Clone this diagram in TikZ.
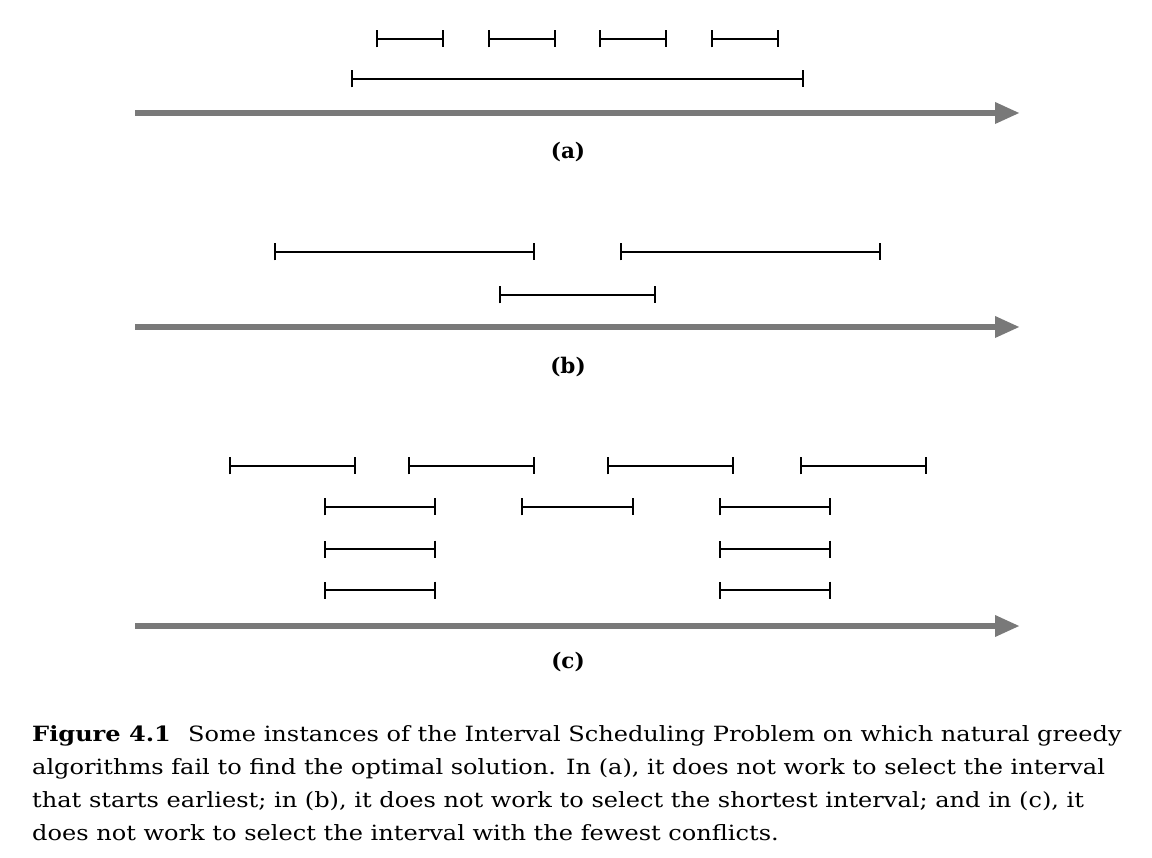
\documentclass[tikz,border=0pt]{standalone}
\usepackage{fontspec}
\setmainfont{DejaVu Serif}
\newfontfamily\capfont{DejaVu Serif}[FakeStretch=1.146]
\usetikzlibrary{arrows.meta}
\begin{document}
\begin{tikzpicture}[x=1pt,y=-1pt,
  axis/.style={draw=gray!95!black, color=gray!95!black, line width=6.5pt, -{Triangle[length=25pt,width=20pt]}},
  ival/.style={draw=black, line width=1.7pt, {Bar[width=17pt,line width=1.7pt]}-{Bar[width=17pt,line width=1.7pt]}},
  lab/.style={font=\bfseries\fontsize{21.5}{24}\selectfont, inner sep=0pt}]
\useasboundingbox (0,0) rectangle (1152,858);
% (a)
\coordinate (a0) at (135,113); \coordinate (a1) at (1020,113);
\draw[axis] (a0) -- (a1);
\foreach \s/\e in {376/444,488/556,599/667,711/779}{
  \coordinate (s) at (\s,39); \coordinate (e) at (\e,39);
  \draw[ival] (s) -- (e);}
\coordinate (as) at (351,79); \coordinate (ae) at (804,79);
\draw[ival] (as) -- (ae);
\node[lab] (la) at (568,152) {(a)};
% (b)
\coordinate (b0) at (135,327); \coordinate (b1) at (1020,327);
\draw[axis] (b0) -- (b1);
\foreach \s/\e in {274/535,620/881}{
  \coordinate (s) at (\s,252); \coordinate (e) at (\e,252);
  \draw[ival] (s) -- (e);}
\coordinate (bs) at (499,295); \coordinate (be) at (656,295);
\draw[ival] (bs) -- (be);
\node[lab] (lb) at (568,367) {(b)};
% (c)
\coordinate (c0) at (135,626); \coordinate (c1) at (1020,626);
\draw[axis] (c0) -- (c1);
\foreach \s/\e in {229/356,408/535,607/734,800/927}{
  \coordinate (s) at (\s,466); \coordinate (e) at (\e,466);
  \draw[ival] (s) -- (e);}
\foreach \s/\e in {324/436,521/634,719/831}{
  \coordinate (s) at (\s,507); \coordinate (e) at (\e,507);
  \draw[ival] (s) -- (e);}
\foreach \y in {549,590}{
  \foreach \s/\e in {324/436,719/831}{
    \coordinate (s) at (\s,\y); \coordinate (e) at (\e,\y);
    \draw[ival] (s) -- (e);}}
\node[lab] (lc) at (568,662) {(c)};
% caption
\node[anchor=base west, inner sep=0pt, align=left, font=\capfont\fontsize{21}{33}\selectfont] (cap) at (32,840)
{\textbf{Figure 4.1}\hspace{0.45em} Some instances of the Interval Scheduling Problem on which natural greedy\\
algorithms fail to find the optimal solution. In (a), it does not work to select the interval\\
that starts earliest; in (b), it does not work to select the shortest interval; and in (c), it\\
does not work to select the interval with the fewest conflicts.};
\end{tikzpicture}
\end{document}
